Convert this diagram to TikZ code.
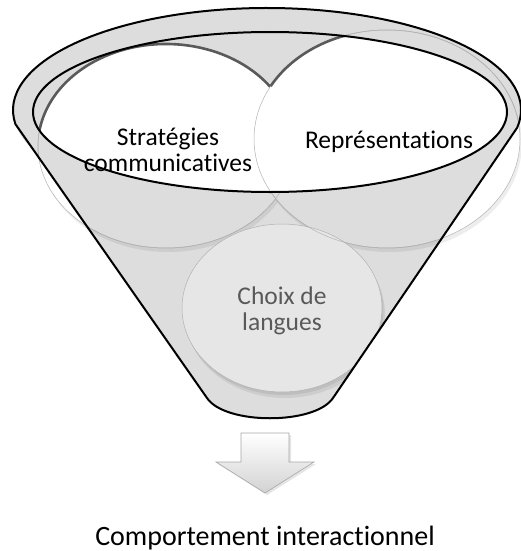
\documentclass[tikz,border=0pt]{standalone}
\usepackage{fontspec}
\setmainfont{Carlito}[Ligatures={NoCommon}]
\definecolor{funnelgray}{RGB}{221,221,221}
\definecolor{rimdark}{RGB}{90,90,90}
\definecolor{choixtext}{RGB}{89,89,89}
\tikzset{
  funnelline/.style={line width=2pt, draw=black, line join=round},
  circleline/.style={draw=gray!60, line width=0.5pt},
  toparc/.style={draw=rimdark, line width=2.6pt},
  lbl/.style={font=\fontsize{25.5}{26.5}\selectfont, align=center, inner sep=0pt},
  bigtext/.style={font=\fontsize{28}{30}\selectfont, inner sep=0pt},
  softshadow/.style={fill=black, opacity=0.07},
  bodyshape/.style={insert path={(L) -- (BL) .. controls (225,-425) and (315,-425) .. (BR) -- (R)
      arc[start angle=-10, end angle=188, x radius=254, y radius=102] -- cycle}},
  arrowshape/.style={top color=white, bottom color=gray!35, draw=gray!70, line width=0.6pt, line join=miter},
}
\begin{document}
\begin{tikzpicture}[x=1pt,y=1pt]
\useasboundingbox (0,0) rectangle (521,-551);
% key points
\coordinate (oc) at (267,-110);
\coordinate (ic) at (270,-112);
\path (oc) ++(188:254 and 102) coordinate (L);
\path (oc) ++(-10:254 and 102) coordinate (R);
\coordinate (BL) at (207,-398);
\coordinate (BR) at (333,-398);
\coordinate (lc) at (166,-146);
\coordinate (rc) at (387,-139);
\coordinate (bc) at (282,-308);

% funnel body
\fill[funnelgray] (oc) ellipse [x radius=254, y radius=102];
\fill[funnelgray, bodyshape];

% circles base layer with shadows
\fill[softshadow] ([shift={(2,-4)}]lc) ellipse [x radius=128, y radius=102];
\fill[softshadow] ([shift={(2,-4)}]rc) ellipse [x radius=133, y radius=109];
\filldraw[fill=white, circleline] (lc) ellipse [x radius=128, y radius=102];
\filldraw[fill=white, circleline] (rc) ellipse [x radius=133, y radius=109];

% circles seen through the funnel wall
\begin{scope}
  \clip[bodyshape];
  \filldraw[fill=funnelgray, circleline] (lc) ellipse [x radius=128, y radius=102];
  \filldraw[fill=funnelgray, circleline] (rc) ellipse [x radius=133, y radius=109];
  % bottom circle
  \fill[softshadow] ([shift={(3,-6)}]bc) ellipse [x radius=100, y radius=84];
  \fill[softshadow] ([shift={(1.5,-3)}]bc) ellipse [x radius=100, y radius=84];
  \filldraw[fill=funnelgray!75!white, circleline] (bc) ellipse [x radius=100, y radius=84];
  \draw[circleline] (lc) ellipse [x radius=128, y radius=102];
  \draw[circleline] (rc) ellipse [x radius=133, y radius=109];
\end{scope}

% circles seen through the opening
\begin{scope}
  \clip (ic) ellipse [x radius=237, y radius=80];
  \filldraw[fill=white, circleline] (lc) ellipse [x radius=128, y radius=102];
  \draw[toparc] (lc) ++(35:128 and 102) arc[start angle=35, end angle=190, x radius=128, y radius=102];
  \filldraw[fill=white, circleline] (rc) ellipse [x radius=133, y radius=109];
  \draw[toparc] (rc) ++(151:133 and 109) arc[start angle=151, end angle=40, x radius=133, y radius=109];
\end{scope}

% funnel outlines
\draw[funnelline, bodyshape];
\draw[funnelline] (ic) ellipse [x radius=237, y radius=80];

% arrow
\fill[black, opacity=0.10] (243,-435) -- (291,-435) -- (291,-464) -- (316,-464) -- (267,-495) -- (218,-464) -- (243,-464) -- cycle;
\draw[arrowshape] (241,-433) -- (289,-433) -- (289,-462) -- (314,-462) -- (265,-493) -- (216,-462) -- (241,-462) -- cycle;

% labels
\node[lbl] (tstrat) at (168,-150) {Stratégies\\communicatives};
\node[lbl, anchor=base] (trep) at (389,-148) {Représentations};
\node[lbl, text=choixtext] (tchoix) at (282,-311) {Choix de\\langues};
\node[bigtext, anchor=base] (tcomp) at (265,-545) {Comportement interactionnel};
\end{tikzpicture}
\end{document}
